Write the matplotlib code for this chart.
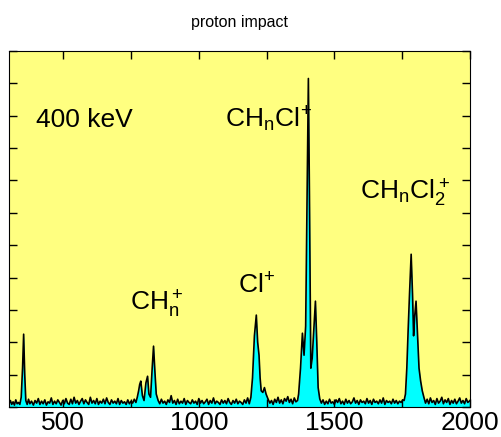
"""
Time-of-flight spectrum, proton impact at 400 keV.
Values read off the original figure (arbitrary intensity units).
"""
import matplotlib
matplotlib.use("Agg")
import matplotlib.pyplot as plt

plt.rcParams['font.family'] = ['Liberation Sans', 'DejaVu Sans']
plt.rcParams['mathtext.default'] = 'regular'

# (flight time channel, counts)
spectrum = [
    (300, 0.10), (305, 0.20), (310, 0.08), (315, 0.16), (320, 0.06),
    (325, 0.22), (330, 0.10), (335, 0.14), (340, 0.08), (345, 0.30),
    (350, 1.20), (354, 2.25), (358, 1.00), (362, 0.20), (367, 0.08),
    (372, 0.24), (377, 0.10), (383, 0.18), (390, 0.06), (396, 0.20),
    (402, 0.12), (408, 0.26), (414, 0.08), (420, 0.18), (426, 0.10),
    (432, 0.22), (438, 0.06), (444, 0.16), (450, 0.12), (456, 0.28),
    (462, 0.08), (468, 0.18), (474, 0.10), (480, 0.22), (486, 0.14),
    (492, 0.06), (498, 0.20), (504, 0.10), (510, 0.26), (516, 0.12),
    (522, 0.08), (528, 0.24), (534, 0.10), (540, 0.30), (546, 0.12),
    (552, 0.20), (558, 0.08), (564, 0.18), (570, 0.26), (576, 0.10),
    (582, 0.22), (588, 0.14), (594, 0.08), (600, 0.30), (606, 0.12),
    (612, 0.20), (618, 0.10), (624, 0.26), (630, 0.08), (636, 0.18),
    (642, 0.12), (648, 0.24), (654, 0.10), (660, 0.28), (666, 0.14),
    (672, 0.08), (678, 0.22), (684, 0.12), (690, 0.18), (696, 0.10),
    (702, 0.26), (708, 0.08), (714, 0.20), (720, 0.12), (726, 0.16),
    (732, 0.08), (738, 0.22), (744, 0.10), (750, 0.18), (756, 0.12),
    (762, 0.24), (768, 0.14), (773, 0.30), (778, 0.50), (782, 0.70),
    (786, 0.80), (792, 0.35), (798, 0.20), (805, 0.75), (811, 0.95),
    (816, 0.40), (822, 0.30), (828, 1.20), (833, 1.88), (838, 1.10),
    (843, 0.40), (850, 0.20), (856, 0.10), (862, 0.24), (868, 0.12),
    (874, 0.18), (880, 0.08), (886, 0.22), (892, 0.14), (898, 0.35),
    (904, 0.12), (910, 0.20), (916, 0.08), (922, 0.24), (928, 0.10),
    (934, 0.18), (940, 0.12), (946, 0.26), (952, 0.08), (958, 0.20),
    (964, 0.14), (970, 0.10), (976, 0.22), (982, 0.12), (988, 0.18),
    (994, 0.08), (1000, 0.26), (1006, 0.12), (1012, 0.20), (1018, 0.10),
    (1024, 0.16), (1030, 0.24), (1036, 0.08), (1042, 0.20), (1048, 0.12),
    (1054, 0.28), (1060, 0.10), (1066, 0.18), (1072, 0.14), (1078, 0.08),
    (1084, 0.22), (1090, 0.12), (1096, 0.20), (1102, 0.10), (1108, 0.26),
    (1114, 0.14), (1120, 0.08), (1126, 0.20), (1132, 0.12), (1138, 0.24),
    (1144, 0.10), (1150, 0.18), (1156, 0.14), (1162, 0.08), (1168, 0.22),
    (1174, 0.12), (1180, 0.28), (1186, 0.10), (1192, 0.30), (1198, 0.90),
    (1205, 2.20), (1212, 2.84), (1217, 2.00), (1222, 1.60), (1226, 0.90),
    (1230, 0.50), (1236, 0.45), (1242, 0.60), (1248, 0.40), (1255, 0.25),
    (1262, 0.12), (1268, 0.20), (1274, 0.08), (1280, 0.24), (1286, 0.14),
    (1292, 0.30), (1298, 0.12), (1304, 0.22), (1310, 0.10), (1316, 0.26),
    (1322, 0.18), (1328, 0.32), (1334, 0.14), (1340, 0.24), (1346, 0.10),
    (1352, 0.28), (1358, 0.16), (1364, 0.20), (1368, 0.40), (1375, 1.20),
    (1382, 2.28), (1388, 1.60), (1394, 2.50), (1400, 7.00), (1404, 10.15),
    (1408, 6.50), (1413, 1.20), (1418, 1.50), (1424, 2.40), (1430, 3.27),
    (1435, 2.00), (1440, 0.60), (1446, 0.25), (1452, 0.12), (1458, 0.22),
    (1464, 0.08), (1470, 0.18), (1476, 0.10), (1482, 0.24), (1488, 0.12),
    (1494, 0.16), (1500, 0.08), (1506, 0.22), (1512, 0.14), (1518, 0.26),
    (1524, 0.10), (1530, 0.18), (1536, 0.08), (1542, 0.24), (1548, 0.12),
    (1554, 0.20), (1560, 0.10), (1566, 0.16), (1572, 0.28), (1578, 0.12),
    (1584, 0.20), (1590, 0.08), (1596, 0.22), (1602, 0.14), (1608, 0.18),
    (1614, 0.10), (1620, 0.26), (1626, 0.12), (1632, 0.20), (1638, 0.08),
    (1644, 0.24), (1650, 0.14), (1656, 0.18), (1662, 0.10), (1668, 0.22),
    (1674, 0.12), (1680, 0.28), (1686, 0.08), (1692, 0.20), (1698, 0.14),
    (1704, 0.18), (1710, 0.10), (1716, 0.24), (1722, 0.12), (1728, 0.20),
    (1734, 0.10), (1740, 0.18), (1746, 0.14), (1752, 0.22), (1757, 0.20),
    (1762, 0.40), (1767, 1.20), (1772, 2.40), (1777, 3.50), (1783, 4.72),
    (1788, 3.50), (1792, 2.20), (1796, 2.80), (1801, 3.27), (1806, 2.30),
    (1812, 1.20), (1818, 0.80), (1824, 0.50), (1830, 0.30), (1836, 0.12),
    (1842, 0.24), (1848, 0.10), (1854, 0.28), (1860, 0.14), (1866, 0.20),
    (1872, 0.08), (1878, 0.26), (1884, 0.12), (1890, 0.18), (1896, 0.30),
    (1902, 0.10), (1908, 0.22), (1914, 0.14), (1920, 0.26), (1926, 0.08),
    (1932, 0.20), (1938, 0.12), (1944, 0.24), (1950, 0.10), (1956, 0.18),
    (1962, 0.28), (1968, 0.12), (1974, 0.20), (1980, 0.10), (1986, 0.26),
    (1992, 0.14), (2000, 0.20),
]
tof = [p[0] for p in spectrum]
counts = [p[1] for p in spectrum]

xtick_values = [500, 1000, 1500, 2000]
xtick_labels = ["500", "1000", "1500", "2000"]

# label text, x, y (data coords)
peak_labels = [
    ("400 keV", 400, 8.65),
    (r"$CH_nCl^{\!+}$", 1096, 8.65),
    (r"$CH_nCl_2^+$", 1594, 6.4),
    (r"$CH_n^+$", 748, 2.97),
    (r"$Cl^{\!+}$", 1145, 3.52),
]

fig = plt.figure(figsize=(5.01, 4.37), dpi=100)
ax = fig.add_axes([9 / 501, 1 - 407 / 437, 461 / 501, 356 / 437])
ax.set_facecolor('#ffff80')

ax.fill_between(tof, counts, 0, color='#00ffff', linewidth=0)
ax.plot(tof, counts, color='black', linewidth=1.2)

ax.set_xlim(300, 2000)
ax.set_ylim(0, 11)
ax.set_xticks(xtick_values)
ax.set_xticklabels(xtick_labels, fontsize=19)
ax.set_xticks([750, 1250, 1750], minor=True)
ax.set_yticks(range(0, 12))
ax.set_yticklabels([])
ax.tick_params(axis='both', which='both', direction='in', top=True, right=True,
               length=6, width=1, pad=3)

for txt, x, y in peak_labels:
    ax.text(x, y, txt, fontsize=19, ha='left', va='baseline')

fig.text(0.5 * (9 + 470) / 501, 1 - 23 / 437, "proton impact", fontsize=11.5,
         ha='center', va='center')

fig.savefig("out.png", dpi=100)
